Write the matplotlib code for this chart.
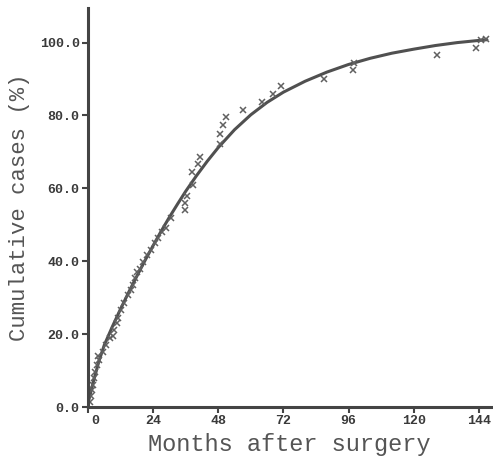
import numpy as np
import matplotlib
matplotlib.use('Agg')
import matplotlib.pyplot as plt
import matplotlib.transforms as mtransforms

# observed cases (months after surgery, cumulative %)
obs_months = [0.7, 1.1, 1.5, 1.8, 2.2, 2.6, 3.3, 3.7, 4.0, 5.5, 6.6, 8.1, 9.2, 9.6,
              10.7, 11.0, 12.2, 13.3, 14.8, 15.9, 16.6, 17.4, 18.1, 19.2, 20.3,
              21.8, 23.3, 24.7, 25.8, 27.3, 28.8, 30.5, 35.8, 35.8, 36.6, 38.8,
              38.4, 41.4, 40.6, 48.7, 48.7, 49.9, 51.0, 57.2, 64.3, 68.3, 71.0,
              86.8, 97.5, 98.2, 128.5, 143.0, 144.8, 146.6]
obs_pct = [1.4, 3.0, 4.7, 6.0, 8.0, 9.6, 11.5, 14.0, 13.0, 15.0, 17.0, 19.0, 19.5,
           21.0, 23.0, 24.4, 26.6, 28.5, 30.7, 32.0, 33.4, 35.3, 37.0, 38.0, 39.7,
           41.6, 43.0, 45.0, 46.3, 48.0, 49.0, 52.0, 56.0, 54.0, 58.0, 60.8,
           64.4, 68.5, 66.8, 72.3, 75.0, 77.3, 79.5, 81.4, 83.6, 85.8, 88.0,
           89.9, 92.6, 94.5, 96.7, 98.6, 100.8, 101.0]

# fitted curve
fit_months = [0, 2, 4, 6, 9, 12, 15, 18, 21, 24, 27, 30, 33, 36, 40, 44, 48, 54,
              60, 66, 72, 80, 88, 96, 104, 112, 120, 128, 136, 144, 147]
fit_pct = [1.0, 7.0, 12.5, 17.0, 22.1, 26.9, 31.5, 35.9, 40.2, 44.3, 48.3, 52.1,
           55.7, 59.2, 63.5, 67.5, 71.2, 76.1, 80.2, 83.6, 86.4, 89.4, 91.9, 94.0,
           95.7, 97.1, 98.2, 99.2, 100.0, 100.6, 100.8]

x_ticks = [0, 24, 48, 72, 96, 120, 144]
y_ticks = [0, 20, 40, 60, 80, 100]

ink = '#444444'

fig = plt.figure(figsize=(4.93, 4.66), dpi=100)
ax = fig.add_axes([88 / 493, 59 / 466, 403 / 493, 399 / 466])

ax.plot(fit_months, fit_pct, color='#505050', lw=2.2, solid_capstyle='round',
        solid_joinstyle='round')
ax.plot(obs_months, obs_pct, ls='none', marker='x', ms=5, mew=1.1, color='#606060')

ax.set_xlim(0, 148.5)
ax.set_ylim(0, 109.5)
ax.set_xticks(x_ticks)
ax.set_yticks(y_ticks)
ax.set_yticklabels(['%.1f' % v for v in y_ticks])

for side in ['top', 'right']:
    ax.spines[side].set_visible(False)
for side in ['left', 'bottom']:
    ax.spines[side].set_linewidth(2.2)
    ax.spines[side].set_color(ink)

ax.tick_params(direction='out', length=4, width=1.5, color=ink, pad=2,
               labelcolor='#3a3a3a')
for lab in ax.get_xticklabels() + ax.get_yticklabels():
    lab.set_fontfamily('Liberation Mono')
    lab.set_fontweight('bold')
    lab.set_fontsize(9.5)

# the "0" label sits a little right of its tick in the original
zero_lab = ax.get_xticklabels()[0]
zero_lab.set_transform(zero_lab.get_transform() +
                       mtransforms.ScaledTranslation(7 / 100, 0, fig.dpi_scale_trans))

ax.set_xlabel('Months after surgery', family='Liberation Mono', fontsize=17,
              color='#555555', labelpad=4)
ax.set_ylabel('Cumulative cases (%)', family='Liberation Mono', fontsize=16,
              color='#555555', labelpad=7)

fig.savefig('out.png', dpi=100)
